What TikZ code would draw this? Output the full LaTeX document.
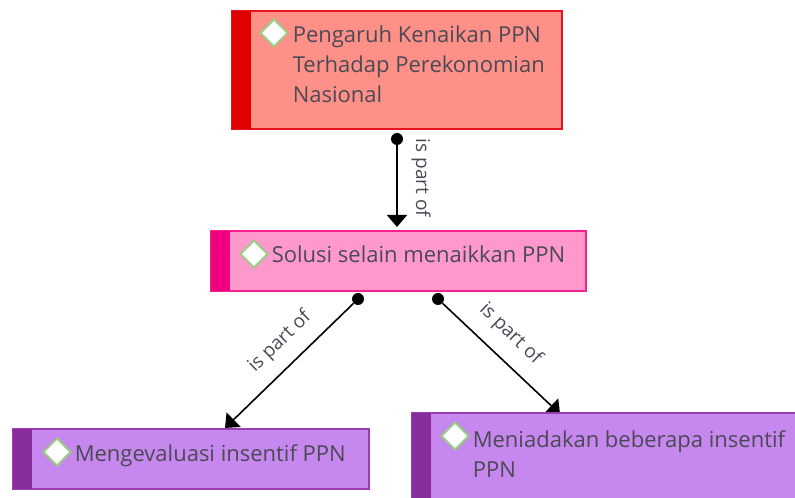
\documentclass[tikz,border=0pt]{standalone}
\usepackage{fontspec}
\setmainfont{Open Sans}
\usetikzlibrary{shapes.geometric,arrows.meta}
\pgfdeclarelayer{back}
\pgfsetlayers{back,main}
\definecolor{txt}{HTML}{4A4A55}
\definecolor{redfill}{HTML}{FF9088}
\definecolor{redbar}{HTML}{E00000}
\definecolor{redline}{HTML}{E6141E}
\definecolor{pinkfill}{HTML}{FF99CC}
\definecolor{pinkbar}{HTML}{F0007F}
\definecolor{pinkline}{HTML}{F5208F}
\definecolor{purpfill}{HTML}{C687EE}
\definecolor{purpbar}{HTML}{882D9E}
\definecolor{purpline}{HTML}{9A3DB0}
\definecolor{diam}{HTML}{9CCB86}
\tikzset{
  x=0.75pt,y=-0.75pt,
  boxnode/.style={draw,line width=1.5pt,inner sep=0pt,outer sep=0pt,anchor=north west},
  barnode/.style={inner sep=0pt,outer sep=0pt,anchor=north west,minimum width=14.6pt},
  marker/.style={diamond,draw=diam,fill=white,line width=1.5pt,inner sep=0pt,minimum width=21pt,minimum height=21pt},
  title/.style={anchor=base west,inner sep=0pt,text=txt,font=\fontsize{16.5pt}{22.5pt}\selectfont,align=left},
  rel/.style={text=txt,font=\fontsize{14.3pt}{16pt}\selectfont,inner sep=0pt},
  startdot/.style={circle,fill=black,inner sep=0pt,minimum size=9pt},
  link/.style={draw=black,line width=1.2pt,-{Triangle[length=9pt,width=15pt]}},
}
\begin{document}
\begin{tikzpicture}
\useasboundingbox (0,0) rectangle (795,498);
\clip (0,0) rectangle (795,498);

\node[boxnode,fill=redfill,draw=redline,minimum width=247.5pt,minimum height=88pt] (main) at (231.5,11.5) {};
\node[barnode,fill=redbar,minimum height=88pt] (mainbar) at (231.5,11.5) {};
\node[marker] (maind) at (274,33) {};
\node[title] (maint) at (292.5,103) {Pengaruh Kenaikan PPN\\Terhadap Perekonomian\\Nasional};

\node[boxnode,fill=pinkfill,draw=pinkline,minimum width=281.7pt,minimum height=45pt] (sol) at (210.5,231.5) {};
\node[barnode,fill=pinkbar,minimum height=45pt] (solbar) at (210.5,231.5) {};
\node[marker] (sold) at (254,254) {};
\node[title] (solt) at (271.5,263) {Solusi selain menaikkan PPN};

\node[boxnode,fill=purpfill,draw=purpline,minimum width=267pt,minimum height=45pt] (eva) at (12.5,428.5) {};
\node[barnode,fill=purpbar,minimum height=45pt] (evabar) at (12.5,428.5) {};
\node[marker] (evad) at (57,452) {};
\node[title] (evat) at (74.5,461) {Mengevaluasi insentif PPN};

\node[boxnode,fill=purpfill,draw=purpline,minimum width=320pt,minimum height=80pt] (mei) at (411.5,412.5) {};
\node[barnode,fill=purpbar,minimum height=80pt] (meibar) at (411.5,412.5) {};
\node[marker] (meid) at (455,436) {};
\node[title] (meit) at (472.5,477) {Meniadakan beberapa insentif\\PPN};

\node[startdot] (d1) at (397,139) {};
\node[startdot] (d2) at (358,299) {};
\node[startdot] (d3) at (438,299) {};
\coordinate (t1) at (397,227);
\coordinate (t2) at (225,428);
\coordinate (t3) at (560,414);

\begin{pgfonlayer}{back}
\draw[link] (d1) -- (t1);
\draw[link] (d2) -- (t2);
\draw[link] (d3) -- (t3);
\end{pgfonlayer}

\node[rel,rotate=-90] (l1) at (421,178) {is part of};
\node[rel,rotate=44] (l2) at (280,342) {is part of};
\node[rel,rotate=-44] (l3) at (510.5,334) {is part of};
\end{tikzpicture}
\end{document}
